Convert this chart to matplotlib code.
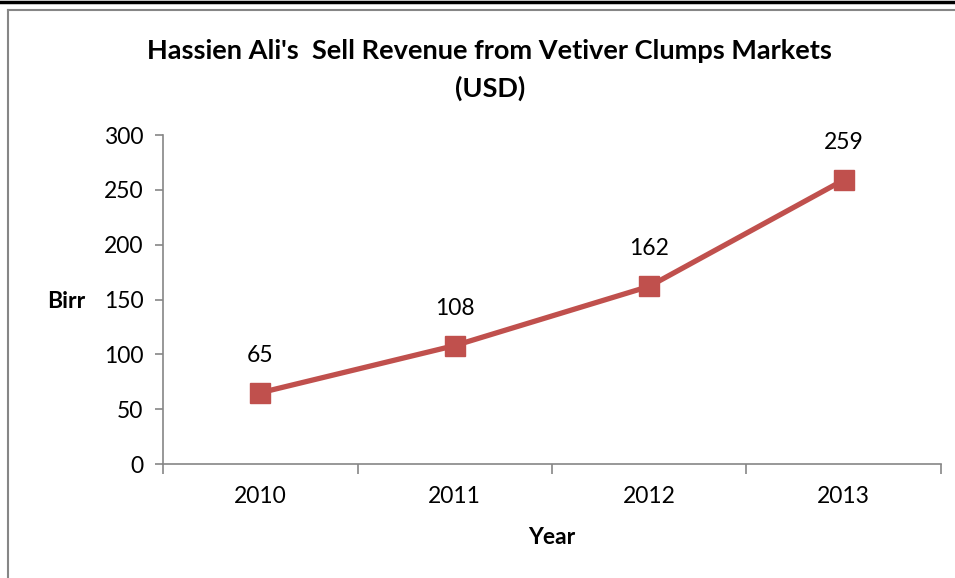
import matplotlib.pyplot as plt
from matplotlib.lines import Line2D

years = ["2010", "2011", "2012", "2013"]
revenue = [65, 108, 162, 259]
yticks = [0, 50, 100, 150, 200, 250, 300]

plt.rcParams["font.family"] = ["Lato", "DejaVu Sans"]
red = "#C0504D"
gray = "#868686"

fig = plt.figure(figsize=(9.55, 5.78), dpi=100)
ax = fig.add_axes([0.1707, 0.1972, 0.8146, 0.5692])

x = range(len(years))
ax.plot(x, revenue, color=red, linewidth=3.8, marker="s", markersize=14.5,
        markerfacecolor=red, markeredgecolor=red, solid_capstyle="round")
for xi, v in zip(x, revenue):
    ax.annotate(str(v), (xi, v), xytext=(0, 27), textcoords="offset points",
                ha="center", va="center", fontsize=16.5)

ax.set_xlim(-0.5, len(years) - 0.5)
ax.set_ylim(0, 300)
ax.set_yticks(yticks)
ax.set_xticks(list(x))
ax.set_xticklabels(years, fontsize=16.5)
ax.set_xticks([i - 0.5 for i in range(len(years) + 1)], minor=True)
ax.tick_params(axis="y", labelsize=16.5, length=6, color=gray, width=1.2, pad=8)
ax.tick_params(axis="x", which="major", length=0, pad=16)
ax.tick_params(axis="x", which="minor", length=7, color=gray, width=1.2)
for s in ["top", "right"]:
    ax.spines[s].set_visible(False)
for s in ["left", "bottom"]:
    ax.spines[s].set_color(gray)
    ax.spines[s].set_linewidth(1.2)

ax.set_xlabel("Year", fontsize=16.5, fontweight="bold", labelpad=14)
fig.text(0.049, 0.478, "Birr", fontsize=16.5, fontweight="bold", ha="left", va="center")
fig.text(0.513, 0.912, "Hassien Ali's  Sell Revenue from Vetiver Clumps Markets",
         fontsize=19.5, fontweight="bold", ha="center", va="center")
fig.text(0.513, 0.848, "(USD)", fontsize=19.5, fontweight="bold", ha="center", va="center")

# frame lines
fig.add_artist(Line2D([0, 1], [0.997, 0.997], color="black", linewidth=2.5))
fig.add_artist(Line2D([0.0084, 0.0084], [0, 0.983], color=gray, linewidth=1.5))
fig.add_artist(Line2D([0.0084, 1], [0.983, 0.983], color=gray, linewidth=1.5))

fig.savefig("out.png", dpi=100)
